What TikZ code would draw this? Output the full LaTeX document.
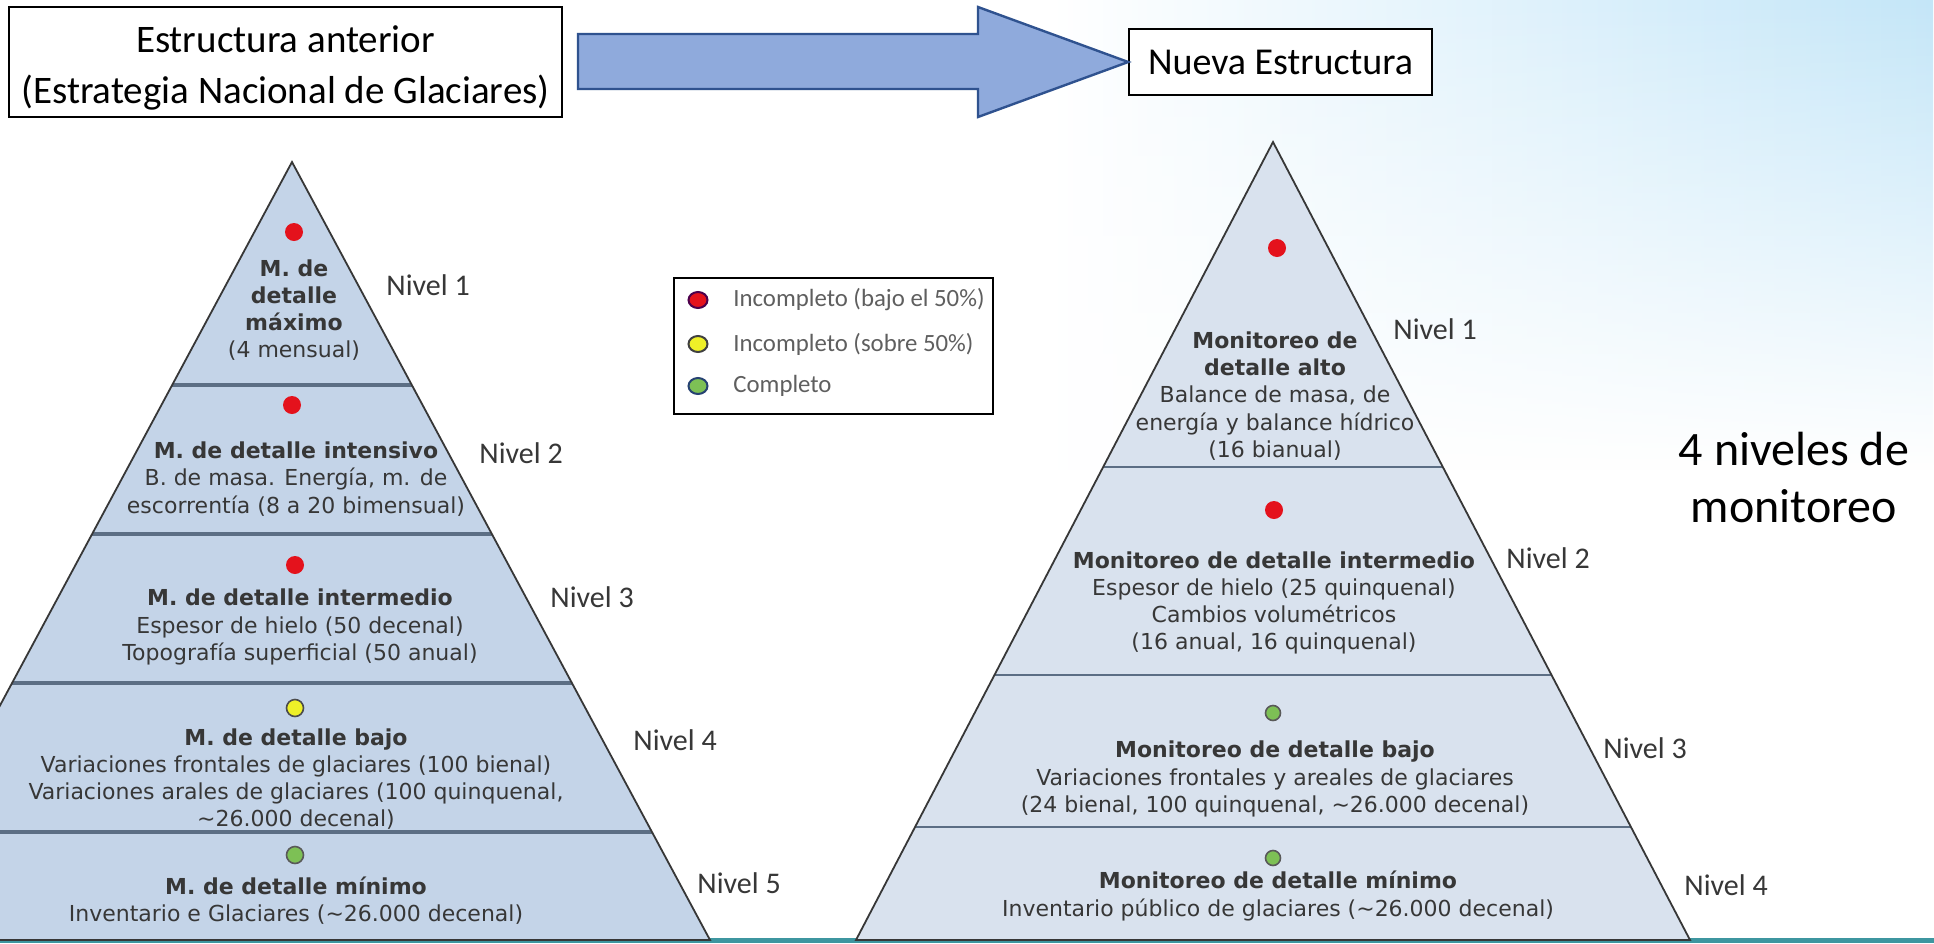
\documentclass[tikz,border=0pt]{standalone}
\usepackage{fontspec}
\setmainfont{Carlito}
\newfontfamily\pyrfont{DejaVu Sans}
\usetikzlibrary{fadings,shapes.geometric}
\definecolor{arrowfill}{RGB}{143,170,220}
\definecolor{arrowline}{RGB}{47,82,143}
\definecolor{pyrleft}{RGB}{196,212,232}
\definecolor{pyrright}{RGB}{217,226,238}
\definecolor{divline}{RGB}{92,110,132}
\definecolor{pyredge}{RGB}{55,55,55}
\definecolor{txtgrey}{RGB}{55,55,55}
\definecolor{legtxt}{RGB}{95,95,95}
\definecolor{bgblue}{RGB}{196,230,248}
\definecolor{teal1}{RGB}{62,150,160}
\definecolor{dotred}{RGB}{228,18,28}
\definecolor{dotyellow}{RGB}{238,240,40}
\definecolor{dotgreen}{RGB}{125,192,85}
\tikzfading[name=fadedown, top color=transparent!0, bottom color=transparent!100]
\tikzset{
  titlebox/.style={draw=black, line width=0.8pt, fill=white, align=center, inner sep=0pt},
  lvl/.style={font=\fontsize{15}{18}\selectfont, text=txtgrey, anchor=west, inner sep=0pt},
  ptext/.style={align=center, font=\pyrfont\fontsize{11}{13.6}\selectfont, text=txtgrey, inner sep=0pt},
  reddot/.style={circle, fill=dotred, minimum size=9pt, inner sep=0pt},
  yeldot/.style={circle, fill=dotyellow, draw=black!70, line width=0.8pt, minimum size=8.5pt, inner sep=0pt},
  grndot/.style={circle, fill=dotgreen, draw=black!65, line width=0.8pt, minimum size=8.5pt, inner sep=0pt},
  legdot/.style={ellipse, minimum width=9.5pt, minimum height=8pt, inner sep=0pt, line width=1pt},
  legtext/.style={anchor=west, inner sep=0pt, text=legtxt, font=\fontsize{12.4}{15}\selectfont},
  divider/.style={draw=divline, line width=1.8pt},
  pyrline/.style={draw=pyredge, line width=0.9pt, line join=miter}
}
\begin{document}
\begin{tikzpicture}[x=0.5pt,y=-0.5pt]
\useasboundingbox (0,0) rectangle (1934,943);
\fill[white] (0,0) rectangle (1934,943);
% background gradient (slide)
\shade[left color=white, right color=bgblue, path fading=fadedown] (1050,0) rectangle (1934,470);
% bottom teal line
\fill[teal1] (0,938) rectangle (1934,943);

% ---------- left pyramid ----------
\begin{scope}
\clip (0,0) rectangle (1934,943);
\fill[pyrleft] (292,162) -- (710,940) -- (-126,940) -- cycle;
\draw[divider] (172,385) -- (412,385);
\draw[divider] (92,534) -- (492,534);
\draw[divider] (12,683) -- (572,683);
\draw[divider] (-68,832) -- (652,832);
\draw[pyrline] (292,162) -- (710,940) -- (-126,940) -- cycle;
\end{scope}

\node[reddot] (ld1) at (294,232) {};
\node[reddot] (ld2) at (292,405) {};
\node[reddot] (ld3) at (295,565) {};
\node[yeldot] (ld4) at (295,708) {};
\node[grndot] (ld5) at (295,855) {};

\node[ptext] (lt1) at (294,310) {{\bfseries M. de}\\{\bfseries detalle}\\{\bfseries máximo}\\(4 mensual)};
\node[ptext] (lt2) at (296,479) {{\bfseries M. de detalle intensivo}\\B. de masa. Energía, m. de\\escorrentía (8 a 20 bimensual)};
\node[ptext] (lt3) at (300,627) {{\bfseries M. de detalle intermedio}\\Espesor de hielo (50 decenal)\\Topografía superficial (50 anual)};
\node[ptext] (lt4) at (296,779) {{\bfseries M. de detalle bajo}\\Variaciones frontales de glaciares (100 bienal)\\Variaciones arales de glaciares (100 quinquenal,\\\textasciitilde26.000 decenal)};
\node[ptext] (lt5) at (296,901) {{\bfseries M. de detalle mínimo}\\Inventario e Glaciares (\textasciitilde26.000 decenal)};

\node[lvl] (ln1) at (386,285) {Nivel 1};
\node[lvl] (ln2) at (479,453) {Nivel 2};
\node[lvl] (ln3) at (550,597) {Nivel 3};
\node[lvl] (ln4) at (633,740) {Nivel 4};
\node[lvl] (ln5) at (697,883) {Nivel 5};

% ---------- right pyramid ----------
\fill[pyrright] (1273,142) -- (1690,940) -- (856,940) -- cycle;
\draw[divider, line width=1.4pt] (1103,467) -- (1443,467);
\draw[divider, line width=1.4pt] (994,675) -- (1552,675);
\draw[divider, line width=1.4pt] (915,827) -- (1631,827);
\draw[pyrline] (1273,142) -- (1690,940) -- (856,940) -- cycle;

\node[reddot] (rd1) at (1277,248) {};
\node[reddot] (rd2) at (1274,510) {};
\node[grndot, minimum size=7.5pt] (rd3) at (1273,713) {};
\node[grndot, minimum size=7.5pt] (rd4) at (1273,858) {};

\node[ptext] (rt1) at (1275,396) {{\bfseries Monitoreo de}\\{\bfseries detalle alto}\\Balance de masa, de\\energía y balance hídrico\\(16 bianual)};
\node[ptext] (rt2) at (1274,603) {{\bfseries Monitoreo de detalle intermedio}\\Espesor de hielo (25 quinquenal)\\Cambios volumétricos\\(16 anual, 16 quinquenal)};
\node[ptext] (rt3) at (1275,779) {{\bfseries Monitoreo de detalle bajo}\\Variaciones frontales y areales de glaciares\\(24 bienal, 100 quinquenal, \textasciitilde26.000 decenal)};
\node[ptext] (rt4) at (1278,896) {{\bfseries Monitoreo de detalle mínimo}\\Inventario público de glaciares (\textasciitilde26.000 decenal)};

\node[lvl] (rn1) at (1393,329) {Nivel 1};
\node[lvl] (rn2) at (1506,558) {Nivel 2};
\node[lvl] (rn3) at (1603,748) {Nivel 3};
\node[lvl] (rn4) at (1684,885) {Nivel 4};

% ---------- legend ----------
\node[draw=black, line width=0.8pt, fill=white, minimum width=159.5pt, minimum height=68pt, inner sep=0pt] (legend) at (833.5,346) {};
\node[legdot, fill=dotred, draw=violet!60!black] (lg1) at (698,300) {};
\node[legdot, fill=dotyellow, draw=black!75] (lg2) at (698,344) {};
\node[legdot, fill=dotgreen, draw=arrowline!80!black] (lg3) at (698,386) {};
\node[legtext] (lgt1) at (733,300) {Incompleto (bajo el 50\%)};
\node[legtext] (lgt2) at (733,344) {Incompleto (sobre 50\%)};
\node[legtext] (lgt3) at (733,386) {Completo};

% ---------- title boxes and arrow ----------
\node[titlebox, minimum width=276.5pt, minimum height=55pt] (box1) at (285.5,62) {};
\node[align=center, inner sep=0pt, font=\fontsize{19.5}{25.5}\selectfont] (box1text) at (285.5,68) {Estructura anterior\\(Estrategia Nacional de Glaciares)};
\node[titlebox, minimum width=151.5pt, minimum height=33pt, font=\fontsize{19}{22}\selectfont] (box2) at (1280.5,62) {Nueva Estructura};
\coordinate (arrtail) at (578,62);
\fill[arrowfill, draw=arrowline, line width=1.2pt, line join=miter]
  (arrtail) ++(0,-28) -- (978,34) -- (978,7) -- (box2.west) -- (978,117) -- (978,89) -- (578,89) -- cycle;

\node[align=center, inner sep=0pt, font=\fontsize{24}{28.5}\selectfont] (note) at (1794,478) {4 niveles de\\monitoreo};
\end{tikzpicture}
\end{document}
